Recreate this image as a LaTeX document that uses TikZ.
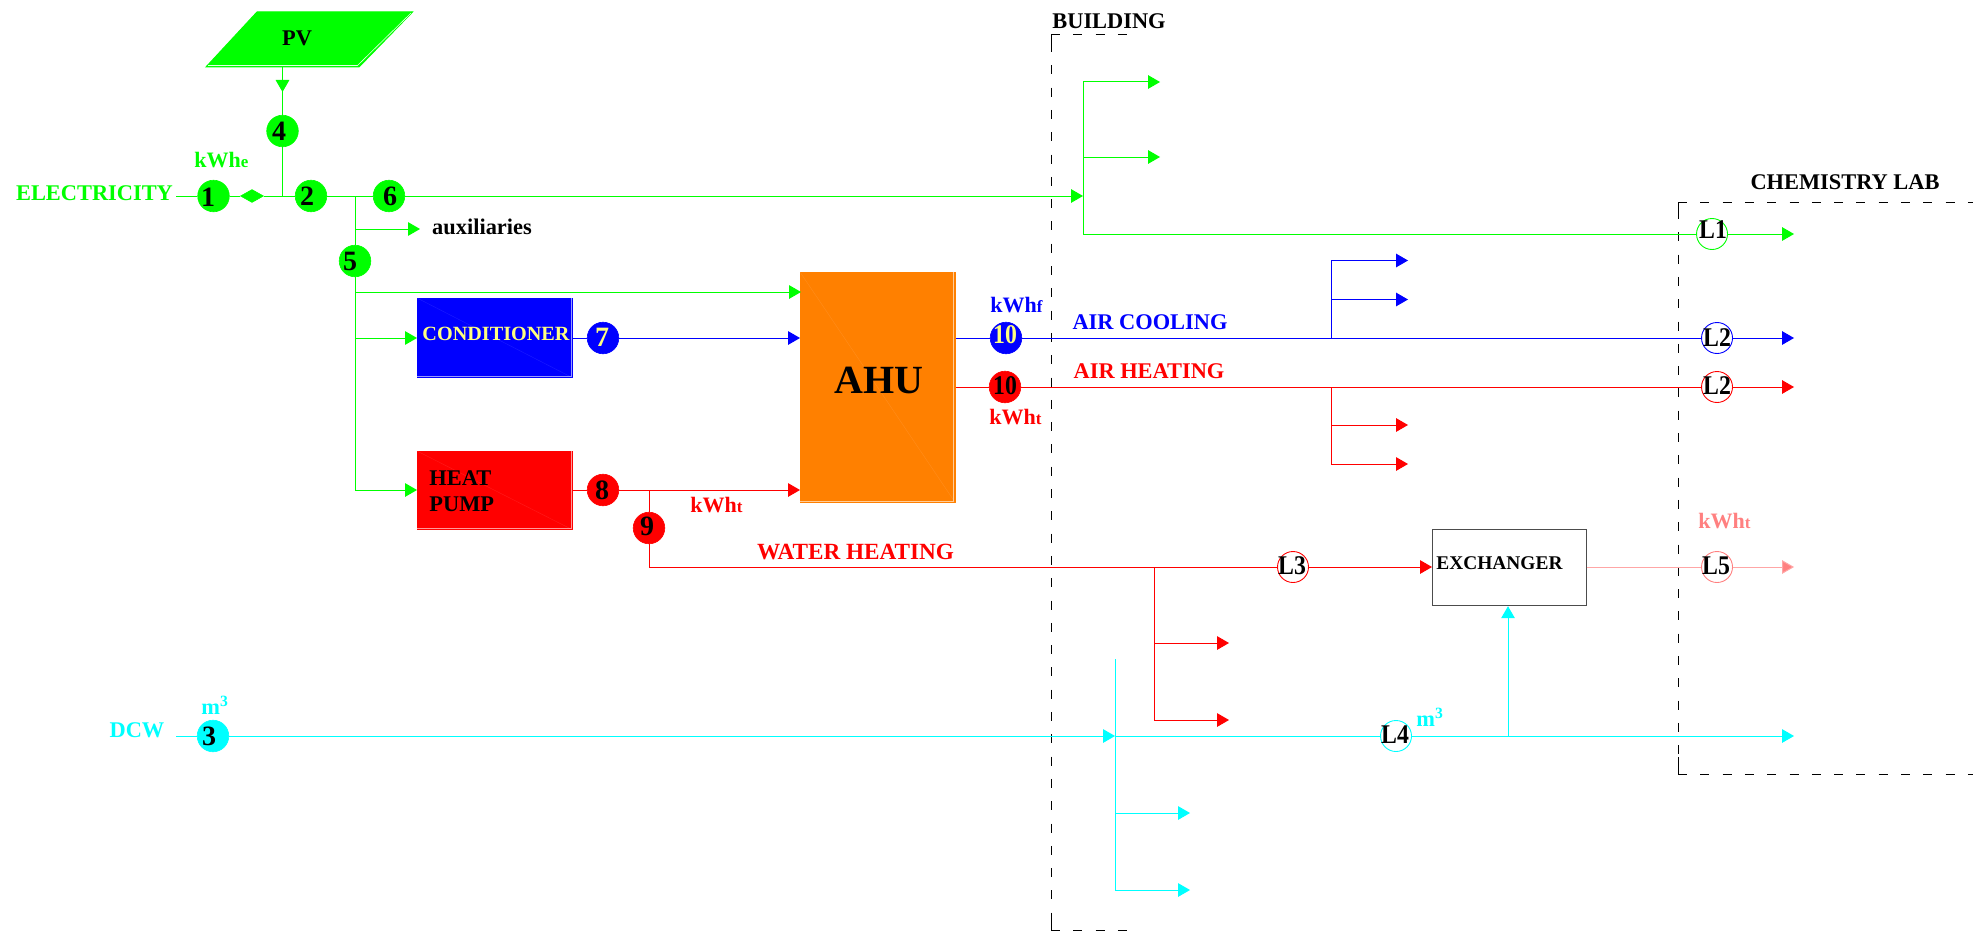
\documentclass[tikz,border=0pt]{standalone}
\usepackage{fontspec}
\setmainfont{Liberation Serif}
\newfontfamily\condf{Liberation Serif}[FakeStretch=0.88]
\usetikzlibrary{arrows.meta,shapes.geometric}
\definecolor{cgreen}{RGB}{0,255,0}
\definecolor{cblue}{RGB}{0,0,255}
\definecolor{cred}{RGB}{255,0,0}
\definecolor{ccyan}{RGB}{0,255,255}
\definecolor{cpink}{RGB}{255,128,128}
\definecolor{corange}{RGB}{255,128,0}
\definecolor{cyel}{RGB}{255,255,128}
\newcommand{\fs}[1]{\fontsize{#1}{#1}\selectfont\bfseries}
\newcommand{\fc}[1]{\condf\fontsize{#1}{#1}\selectfont\bfseries}
\tikzset{
  x=0.5pt,y=-0.5pt,
  flow/.style={line width=0.5pt,draw=#1},
  tip/.style={flow=#1,-{Triangle[length=6pt,width=6.8pt,fill=#1]}},
  dashbox/.style={black,line width=0.5pt,dash pattern=on 4.5pt off 6.65pt},
  solidbox/.style={black,line width=0.5pt},
  bubble/.style={circle,fill=#1,draw=#1,line width=0.3pt,minimum size=15.8pt,inner sep=0pt},
  ring/.style={circle,fill=white,draw=#1,line width=0.45pt,minimum size=15.5pt,inner sep=0pt},
  num/.style={inner sep=0pt,text=#1,font=\fs{14pt}},
  num/.default=black,
  ringnum/.style={inner sep=0pt,text=#1,font=\fc{13.5pt}},
  ringnum/.default=black,
  lab/.style={inner sep=0pt,text=#1,font=\fs{11.2pt}},
  lab/.default=black,
  unit/.style={inner sep=0pt,text=#1,font=\fs{11pt}},
  block/.style={rectangle,fill=#1,draw=#1,line width=0.5pt,inner sep=0pt,anchor=north west},
  edge/.style={draw=white,line width=0.35pt,opacity=0.6},
  faint/.style={draw=white,line width=0.2pt,opacity=0.1},
}
\newcommand{\kwh}[1]{kWh{\fontsize{8.5pt}{9pt}\selectfont #1}}
\begin{document}
\begin{tikzpicture}
\useasboundingbox (0,0) rectangle (1973,931);
% boxes
\coordinate (pva) at (257,12); \coordinate (pvb) at (412.5,12); \coordinate (pvc) at (359,67); \coordinate (pvd) at (206,67);
\draw[cgreen,fill=cgreen,line width=0.5pt] (pva) -- (pvb) -- (pvc) -- (pvd) -- cycle;
\coordinate (pve) at (411,13); \coordinate (pvf) at (357.5,65.5); \coordinate (pvg) at (208,65.5);
\draw[edge,line width=0.3pt,opacity=0.9] (pve) -- (pvf) -- (pvg);
\node[lab] (pvt) at (297,38) {PV};
\coordinate (pv) at (282.5,67);
\node[block=cblue,minimum width=77.5pt,minimum height=39.5pt] (cond) at (417,298) {};
\node[block=cred,minimum width=77.5pt,minimum height=39pt] (hp) at (417,451) {};
\node[block=corange,minimum width=77.25pt,minimum height=115pt] (ahu) at (800,272) {};
\foreach \b in {cond,hp,ahu}{
  \draw[faint] (\b.north west) -- (\b.south east);
  \draw[edge] ([xshift=-1pt]\b.north east) -- ([xshift=-1pt,yshift=1pt]\b.south east) -- ([yshift=1pt]\b.south west);
}
\node[lab=cyel,font=\fs{10.1pt}] (condt) at (496,334) {CONDITIONER};
\node[lab,anchor=west] (hpa) at (429,478) {HEAT};
\node[lab,anchor=west] (hpb) at (429,504) {PUMP};
\node[lab,font=\fs{20pt}] (ahut) at (879,380) {AHU};
\node[block=white,draw=black!70,line width=0.6pt,minimum width=76.75pt,minimum height=38pt] (ex) at (1432,529) {};
\node[lab,font=\fs{9.7pt},anchor=west] (ext) at (1436,563) {EXCHANGER};
% dashed frames
\coordinate (b1) at (1128,35); \coordinate (b2) at (1051,35); \coordinate (b2a) at (1051,43); \coordinate (b2b) at (1051,52);
\coordinate (b3) at (1051,930); \coordinate (b3a) at (1051,913); \coordinate (b4) at (1128,930);
\draw[dashbox] (b2) -- (b1);
\draw[dashbox] (b3) -- (b4);
\draw[dashbox] (b2a) -- (b3a);
\draw[solidbox] (b2) -- (b2b);
\draw[solidbox] (b3a) -- (b3);
\coordinate (l1) at (1973,202); \coordinate (l2) at (1678,202); \coordinate (l2a) at (1678,210); \coordinate (l2b) at (1678,219);
\coordinate (l3) at (1678,774); \coordinate (l3a) at (1678,757); \coordinate (l4) at (1973,774);
\draw[dashbox] (l2) -- (l1);
\draw[dashbox] (l3) -- (l4);
\draw[dashbox] (l2a) -- (l3a);
\draw[solidbox] (l2) -- (l2b);
\draw[solidbox] (l3a) -- (l3);
\node[lab,anchor=west] (bt) at (1052,21) {BUILDING};
\node[lab] (ct) at (1845,182) {CHEMISTRY LAB};
% bubbles
\node[bubble=cgreen] (n1) at (213.5,196) {};
\node[bubble=cgreen] (n2) at (311,196) {};
\node[bubble=cgreen] (n4) at (282.5,131) {};
\node[bubble=cgreen] (n5) at (355,261) {};
\node[bubble=cgreen] (n6) at (389,196) {};
\node[bubble=ccyan] (n3) at (213,736) {};
\node[bubble=cblue] (n7) at (603,338) {};
\node[bubble=cred] (n8) at (603,490) {};
\node[bubble=cred] (n9) at (649,528) {};
\node[bubble=cblue] (n10a) at (1006,338) {};
\node[bubble=cred] (n10b) at (1005,387) {};
\node[ring=cgreen] (L1) at (1712,234) {};
\node[ring=cblue] (L2a) at (1717,338) {};
\node[ring=cred] (L2b) at (1717,387) {};
\node[ring=cred] (L3) at (1293,567) {};
\node[ring=ccyan] (L4) at (1396,736) {};
\node[ring=cpink] (L5) at (1717,567) {};
\node[diamond,aspect=1.8,fill=cgreen,draw=cgreen,line width=0.3pt,inner sep=0pt,minimum width=11.5pt,minimum height=6.5pt] (dia) at (252,196) {};
% green network
\coordinate (g0) at (176,196);
\coordinate (j4) at (282.5,196);
\coordinate (j5) at (355,196);
\coordinate (ga) at (355,229); \coordinate (gat) at (420,229);
\coordinate (gb) at (355,292); \coordinate (gbt) at (801,292);
\coordinate (gc) at (355,338); \coordinate (gd) at (355,490);
\coordinate (gf) at (1083,196);
\coordinate (gv1) at (1083,82); \coordinate (gv2) at (1083,234);
\coordinate (gt1) at (1160,82);
\coordinate (gm) at (1083,157); \coordinate (gt2) at (1160,157);
\coordinate (gt3) at (1794,234);
\coordinate (pvtip) at (282.5,92);
\draw[flow=cgreen] (g0) -- (n1);
\draw[flow=cgreen] (n1) -- (dia);
\draw[flow=cgreen] (dia) -- (n2);
\draw[flow=cgreen] (n2) -- (n6);
\draw[tip=cgreen] (n6) -- (gf);
\draw[flow=cgreen] (pv) -- (n4);
\draw[tip=cgreen] (pv) -- (pvtip);
\draw[flow=cgreen] (n4) -- (j4);
\draw[flow=cgreen] (j5) -- (n5);
\draw[tip=cgreen] (ga) -- (gat);
\draw[flow=cgreen] (n5) -- (gd);
\draw[tip=cgreen] (gb) -- (gbt);
\draw[tip=cgreen] (gc) -- (cond.west |- gc);
\draw[tip=cgreen] (gd) -- (hp.west |- gd);
\draw[flow=cgreen] (gv1) -- (gv2);
\draw[tip=cgreen] (gv1) -- (gt1);
\draw[tip=cgreen] (gm) -- (gt2);
\draw[flow=cgreen] (gv2) -- (L1);
\draw[tip=cgreen] (L1) -- (gt3);
% blue network
\coordinate (bj) at (1331,338); \coordinate (bu1) at (1331,260.5); \coordinate (bu2) at (1331,299.5);
\coordinate (bt1) at (1408,260.5); \coordinate (bt2) at (1408,299.5); \coordinate (bt3) at (1794,338);
\draw[flow=cblue] (cond.east |- n7) -- (n7);
\draw[tip=cblue] (n7) -- (ahu.west |- n7);
\draw[flow=cblue] (ahu.east |- n10a) -- (n10a);
\draw[flow=cblue] (n10a) -- (L2a);
\draw[tip=cblue] (L2a) -- (bt3);
\draw[flow=cblue] (bj) -- (bu1);
\draw[tip=cblue] (bu1) -- (bt1);
\draw[tip=cblue] (bu2) -- (bt2);
% red network
\coordinate (rj) at (1331,387); \coordinate (rd1) at (1331,425); \coordinate (rd2) at (1331,464);
\coordinate (rt1) at (1408,425); \coordinate (rt2) at (1408,464); \coordinate (rt3) at (1794,387);
\coordinate (wj) at (649,490); \coordinate (wc) at (649,567);
\coordinate (wb) at (1154,567); \coordinate (wd1) at (1154,643); \coordinate (wd2) at (1154,720);
\coordinate (wt1) at (1229,643); \coordinate (wt2) at (1229,720);
\draw[flow=cred] (hp.east |- n8) -- (n8);
\draw[tip=cred] (n8) -- (ahu.west |- n8);
\draw[flow=cred] (wj) -- (n9);
\draw[flow=cred] (n9) -- (wc);
\draw[flow=cred] (wc) -- (L3);
\draw[tip=cred] (L3) -- (ex.west |- L3);
\draw[flow=cred] (wb) -- (wd2);
\draw[tip=cred] (wd1) -- (wt1);
\draw[tip=cred] (wd2) -- (wt2);
\draw[flow=cred] (ahu.east |- n10b) -- (n10b);
\draw[flow=cred] (n10b) -- (L2b);
\draw[tip=cred] (L2b) -- (rt3);
\draw[flow=cred] (rj) -- (rd2);
\draw[tip=cred] (rd1) -- (rt1);
\draw[tip=cred] (rd2) -- (rt2);
% pink
\coordinate (pt) at (1794,567);
\draw[flow=cred!35] (ex.east |- L5) -- (L5);
\draw[flow=cred!35,-{Triangle[length=6pt,width=6.8pt,fill=cpink]}] (L5) -- (pt);
% cyan network
\coordinate (c0) at (176,736); \coordinate (cv) at (1115,736);
\coordinate (cv1) at (1115,659); \coordinate (cv2) at (1115,890); \coordinate (cm) at (1115,813);
\coordinate (ct1) at (1190,813); \coordinate (ct2) at (1190,890); \coordinate (ct3) at (1794,736);
\coordinate (cj) at (1508,736);
\draw[flow=ccyan] (c0) -- (n3);
\draw[tip=ccyan] (n3) -- (cv);
\draw[flow=ccyan] (cv) -- (L4);
\draw[tip=ccyan] (L4) -- (ct3);
\draw[flow=ccyan] (cv1) -- (cv2);
\draw[tip=ccyan] (cm) -- (ct1);
\draw[tip=ccyan] (cv2) -- (ct2);
\draw[tip=ccyan] (cj) -- (ex.south -| cj);
% texts on bubbles
\node[num] (t1) at (208,197) {1};
\node[num] (t2) at (307,196) {2};
\node[num] (t3) at (209,736) {3};
\node[num] (t4) at (279,131) {4};
\node[num] (t5) at (350,261) {5};
\node[num] (t6) at (390,196) {6};
\node[num=cyel] (t7) at (602,337) {7};
\node[num] (t8) at (602,490) {8};
\node[num] (t9) at (647,526) {9};
\node[ringnum=cyel] (t10a) at (1005,335) {10};
\node[ringnum] (t10b) at (1005,386) {10};
\node[ringnum] (tL1) at (1713,230) {L1};
\node[ringnum] (tL2a) at (1717,338) {L2};
\node[ringnum] (tL2b) at (1717,386) {L2};
\node[ringnum] (tL3) at (1292,566) {L3};
\node[ringnum] (tL4) at (1395,735) {L4};
\node[ringnum] (tL5) at (1716,566) {L5};
% other labels
\node[lab=cgreen] (elec) at (94.5,193) {ELECTRICITY};
\node[unit=cgreen,anchor=west] (ue) at (194,160) {\kwh{e}};
\node[lab] (aux) at (482,227) {auxiliaries};
\node[unit=cblue,anchor=west] (uf) at (990,305) {\kwh{f}};
\node[unit=cred,anchor=west] (ut1) at (989,417) {\kwh{t}};
\node[unit=cred,anchor=west] (ut2) at (690,505) {\kwh{t}};
\node[unit=cpink,anchor=west] (ut3) at (1698,521) {\kwh{t}};
\node[lab=cblue] (aircool) at (1150,322) {AIR COOLING};
\node[lab=cred] (airheat) at (1149,371) {AIR HEATING};
\node[lab=cred,font=\fs{11.6pt}] (wh) at (855.5,552) {WATER HEATING};
\node[lab=ccyan] (dcw) at (137,730) {DCW};
\node[lab=ccyan,anchor=west] (m1) at (201,705) {m\textsuperscript{3}};
\node[lab=ccyan,anchor=west] (m2) at (1416,717) {m\textsuperscript{3}};
\end{tikzpicture}
\end{document}
